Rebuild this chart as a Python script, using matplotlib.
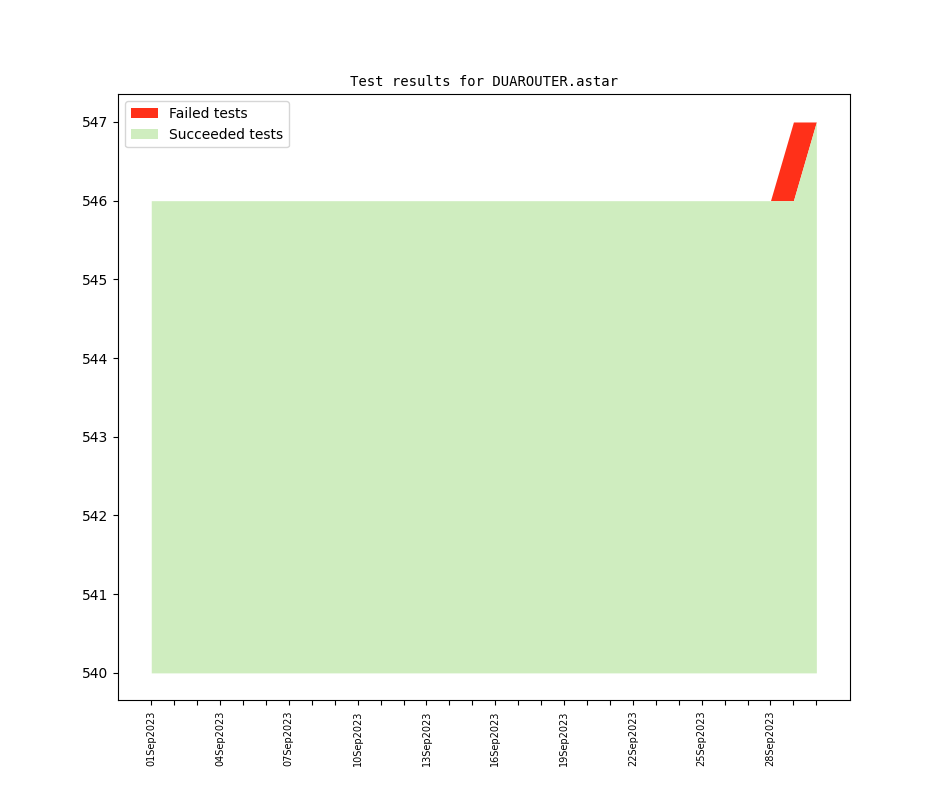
import datetime
import matplotlib
matplotlib.use("Agg")
import matplotlib.pyplot as plt
import matplotlib.dates as mdates

# daily test results, September 2023
days = list(range(1, 31))
total_tests = [546] * 28 + [547, 547]
failed_tests = [0] * 28 + [1, 0]
base_line = 540

dates = [datetime.date(2023, 9, d) for d in days]
succeeded = [t - f for t, f in zip(total_tests, failed_tests)]

fig, ax = plt.subplots(figsize=(9.44, 7.87), dpi=100)
ax.fill_between(dates, succeeded, total_tests, color="#ff3019", linewidth=0, label="Failed tests")
ax.fill_between(dates, base_line, succeeded, color="#cfedbf", linewidth=0, label="Succeeded tests")

ax.set_xticks(dates)
ax.set_xticklabels([d.strftime("%d%b%Y") if i % 3 == 0 else "" for i, d in enumerate(dates)],
                   rotation=90, fontsize=7)
ax.set_title("Test results for DUAROUTER.astar", family="monospace", fontsize=10)
ax.legend(loc="upper left")

fig.savefig("out.png")
